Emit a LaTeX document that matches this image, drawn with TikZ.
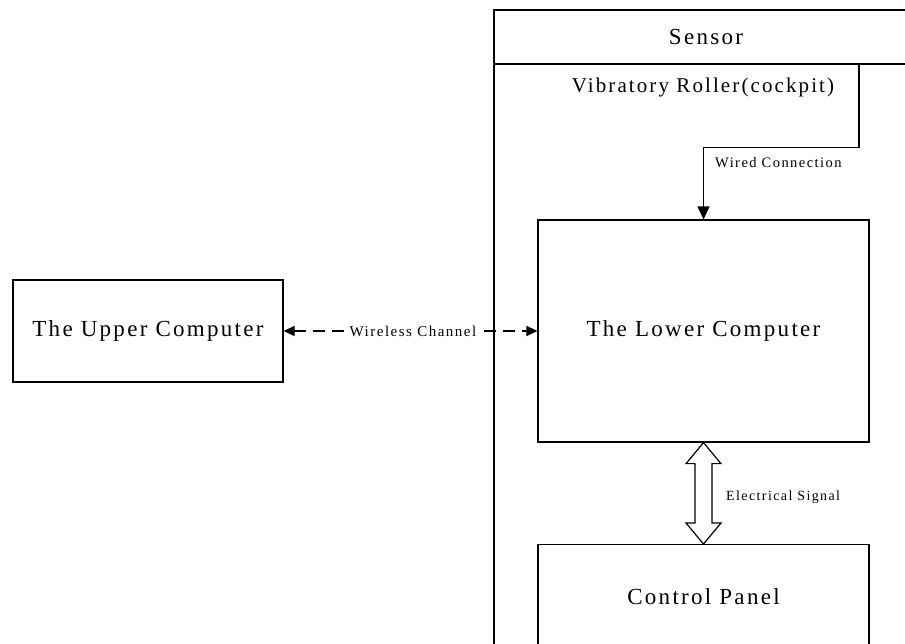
\documentclass[tikz,border=0pt]{standalone}
\usepackage{fontspec}
\setmainfont{Liberation Serif}[LetterSpace=10]
\usetikzlibrary{arrows.meta,calc}
\tikzset{
  box/.style={draw,line width=1.2pt,inner sep=0pt},
  bigtxt/.style={font=\fontsize{23}{26}\selectfont},
  smalltxt/.style={font=\fontsize{14.5}{16}\selectfont,inner sep=1pt},
  tip/.style={-{Triangle[length=13pt,width=12pt]}},
  conn/.style={line width=1.2pt},
}
\begin{document}
\begin{tikzpicture}[x=1pt,y=-1pt]
\useasboundingbox (0,0) rectangle (905,643);
\clip (0,0) rectangle (905,643);
% outer vibratory roller frame
\draw[conn] (930,10) rectangle (494,680);
\draw[conn] (494,64) -- (930,64);
\node[bigtxt] (sensor) at (706,37) {Sensor};
\node[font=\fontsize{21}{24}\selectfont] (roller) at (703,87) {Vibratory Roller(cockpit)};
% boxes
\node[box,bigtxt,minimum width=270pt,minimum height=102pt] (upper) at (148,331) {The Upper Computer};
\node[box,bigtxt,minimum width=331pt,minimum height=222pt] (lower) at (703.5,331) {The Lower Computer};
\node[box,bigtxt,minimum width=331pt,minimum height=104pt,anchor=north] (panel) at (703.5,544) {Control Panel};
% wired connection
\coordinate (w0) at (859,64);
\draw[conn,tip] (w0) |- ([yshift=72pt]lower.north) -- (lower.north);
\node[smalltxt,anchor=west] (wired) at (714,163) {Wired Connection};
% wireless channel
\draw[conn,dash pattern=on 12pt off 7pt,{Triangle[length=11pt,width=10pt]}-{Triangle[length=11pt,width=10pt]}] (upper.east) -- (lower.west);
\node[smalltxt,fill=white,font=\fontsize{15}{16}\selectfont] (wless) at (413,331) {Wireless Channel};
% electrical signal double arrow
\draw[conn,fill=white] let \p1=(lower.south), \p2=(panel.north) in
  (\x1,\y1) -- ($(\x1,\y1)+(17.5pt,-21pt)$) -- ($(\x1,\y1)+(8.5pt,-21pt)$)
  -- ($(\x2,\y2)+(8.5pt,21pt)$) -- ($(\x2,\y2)+(17.5pt,21pt)$) -- (\x2,\y2)
  -- ($(\x2,\y2)+(-17.5pt,21pt)$) -- ($(\x2,\y2)+(-8.5pt,21pt)$)
  -- ($(\x1,\y1)+(-8.5pt,-21pt)$) -- ($(\x1,\y1)+(-17.5pt,-21pt)$) -- cycle;
\node[smalltxt,anchor=west,font=\fontsize{14}{16}\selectfont] (elec) at (725,497) {Electrical Signal};
\end{tikzpicture}
\end{document}
